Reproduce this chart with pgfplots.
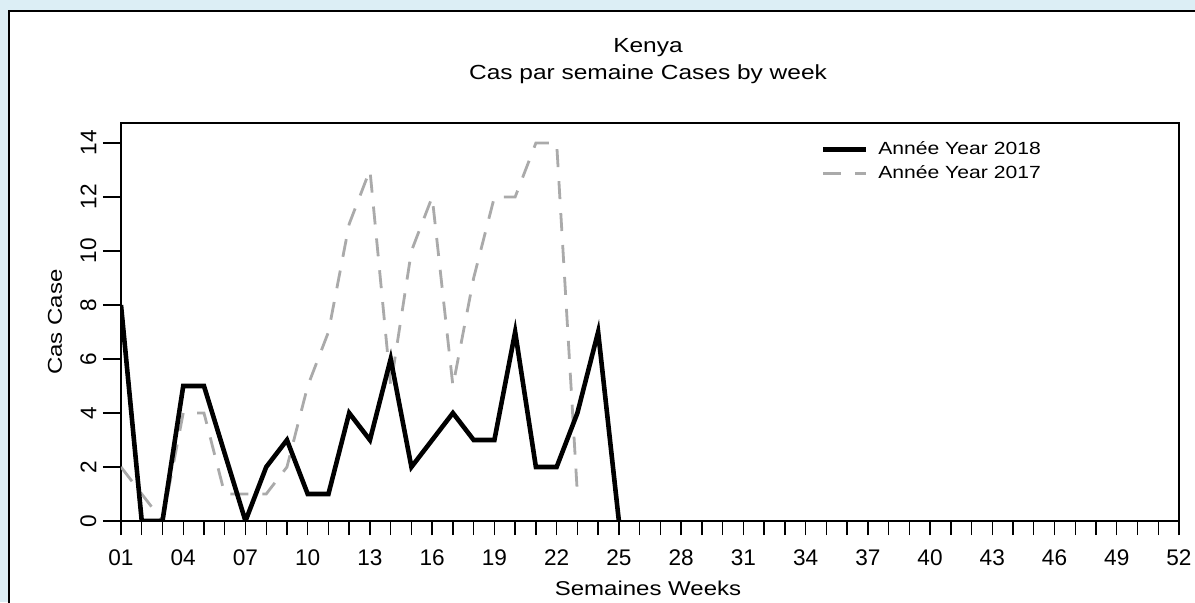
\documentclass[border=0pt]{standalone}
\usepackage{fontspec}
\setmainfont{Liberation Sans}
\newfontfamily\wide{Liberation Sans}[FakeStretch=1.2]
\usepackage{pgfplots}
\pgfplotsset{compat=1.18}
\definecolor{bgblue}{RGB}{220,238,245}
\definecolor{lgray}{RGB}{170,170,170}
\begin{document}
\begin{tikzpicture}[x=1pt,y=1pt]
\path[use as bounding box] (0,0) rectangle (597.5,301);
\fill[bgblue] (0,0) rectangle (597.5,301);
\begin{scope}
\clip (0,0) rectangle (597.5,301);
\filldraw[fill=white, draw=black, line width=1pt] (4.5,-10) rectangle (620,295.5);
\end{scope}
\begin{axis}[
  at={(60.5pt,40.5pt)}, anchor=south west, scale only axis,
  width=529pt, height=199pt,
  xmin=1, xmax=52, ymin=0, ymax=14.74,
  axis line style={line width=0.9pt},
  tick align=outside,
  xtick pos=bottom, ytick pos=left,
  xtick={1,4,...,52},
  xticklabels={01,04,07,10,13,16,19,22,25,28,31,34,37,40,43,46,49,52},
  minor xtick={1,...,52},
  ytick={0,2,...,14},
  yticklabels={0,2,4,6,8,10,12,14},
  xtick style={line width=0.7pt, black, /pgfplots/major tick length=7pt, /pgfplots/minor tick length=7pt},
  ytick style={line width=0.7pt, black, /pgfplots/major tick length=9pt},
  xticklabel style={font=\fontsize{11.3}{13}\selectfont, yshift=-6.5pt},
  yticklabel style={rotate=90, anchor=south, font=\fontsize{11.3}{13}\selectfont, yshift=4.5pt},
  reverse legend,
  legend image code/.code={\draw[#1] (0pt,0pt) -- (21.5pt,0pt);},
  legend style={draw=none, fill=none, at={(0.661,0.96)}, anchor=north west,
    inner sep=0pt, row sep=2pt, font=\wide\fontsize{8.8}{10}\selectfont,
    nodes={inner sep=1pt}, /tikz/every odd column/.style={column sep=4pt}},
]
\addplot[lgray, line width=1.4pt, dash pattern=on 9pt off 7pt] coordinates {
(1,2)(2,1)(3,0)(4,4)(5,4)(6,1)(7,1)(8,1)(9,2)(10,5)(11,7)(12,11)(13,13)(14,5)(15,10)(16,12)(17,5)(18,9)(19,12)(20,12)(21,14)(22,14)(23,1)
};
\addlegendentry{Année Year 2017}
\addplot[black, line width=2.3pt] coordinates {
(1,8)(2,0)(3,0)(4,5)(5,5)(7,0)(8,2)(9,3)(10,1)(11,1)(12,4)(13,3)(14,6)(15,2)(16,3)(17,4)(18,3)(19,3)(20,7)(21,2)(22,2)(23,4)(24,7)(25,0)
};
\addlegendentry{Année Year 2018}
\end{axis}
\node[anchor=base, font=\wide\fontsize{10.2}{12}\selectfont] at (324,274.9) {Kenya};
\node[anchor=base, font=\wide\fontsize{10.2}{12}\selectfont] at (324,261.5) {Cas par semaine Cases by week};
\node[anchor=base, font=\wide\fontsize{10}{12}\selectfont] at (324,3.5) {Semaines Weeks};
\node[anchor=base, rotate=90, font=\wide\fontsize{10}{12}\selectfont] at (31,140) {Cas Case};
\end{tikzpicture}
\end{document}
